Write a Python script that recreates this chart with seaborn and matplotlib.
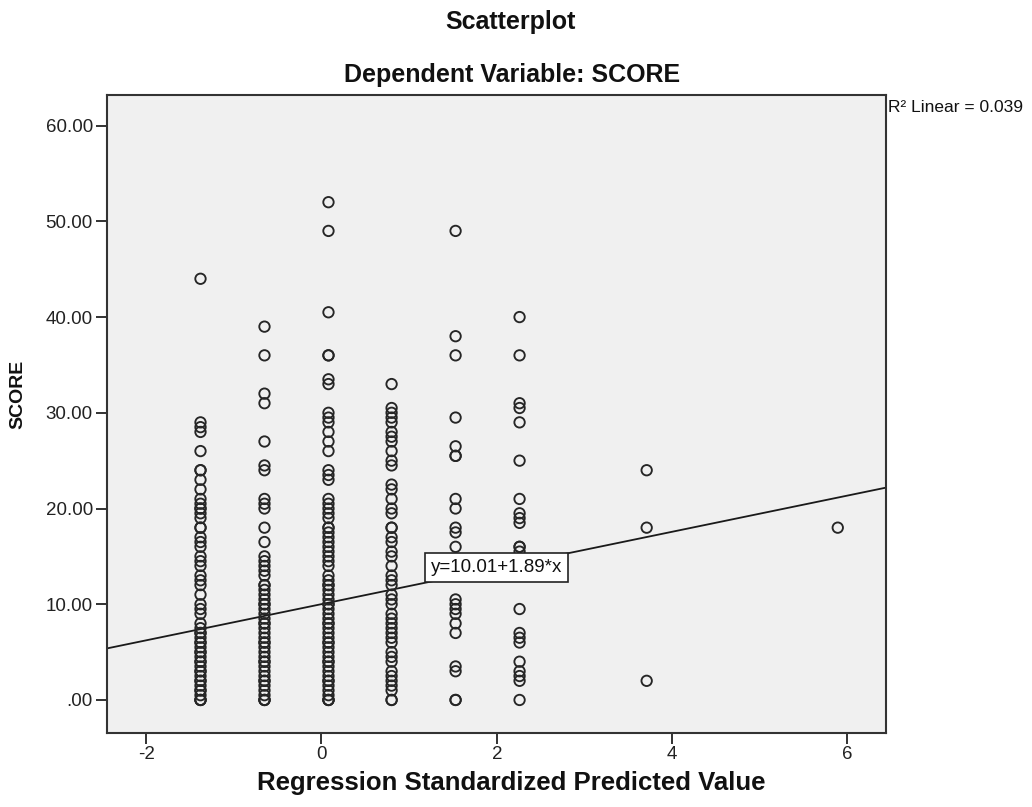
import pandas as pd
import matplotlib.pyplot as plt
import seaborn as sns

# standardisierte Vorhersagewerte (eine Spalte pro Wert)
pred_values = [-1.38, -0.65, 0.08, 0.80, 1.53, 2.26, 3.71, 5.89]

# SCORE-Werte je Spalte
scores_col1 = [44, 29, 28.5, 28, 26, 24, 24, 23, 22, 21, 20.5, 20, 20, 19.5, 19, 18, 18, 17, 16.5,
               16, 15, 14.5, 14, 13, 12.5, 12, 11, 10, 9.5, 9, 8, 7.5, 7, 7, 6.5, 6, 6, 5.5, 5, 5,
               4.5, 4, 4, 3.5, 3, 3, 2.5, 2, 2, 1.5, 1, 1, 0.5, 0, 0, 0]
scores_col2 = [39, 36, 32, 31, 27, 24.5, 24, 21, 20.5, 20, 18, 16.5, 15, 14.5, 14, 13.5, 13, 12,
               12, 11.5, 11, 10.5, 10, 10, 9.5, 9, 8.5, 8, 8, 7.5, 7, 6.5, 6, 6, 5.5, 5, 4.5, 4,
               4, 3.5, 3, 2.5, 2, 2, 1.5, 1, 0.5, 0, 0, 0]
scores_col3 = [52, 49, 40.5, 36, 36, 33.5, 33, 30, 29.5, 29, 28, 27, 26, 24, 23.5, 23, 21, 20.5,
               20, 19.5, 19, 18, 18, 17.5, 17, 16.5, 16, 15.5, 15, 14.5, 14, 13, 12.5, 12, 12,
               11.5, 11, 10.5, 10, 10, 9.5, 9, 8.5, 8, 8, 7.5, 7, 6.5, 6, 6, 5.5, 5, 4.5, 4, 4,
               3.5, 3, 2.5, 2, 2, 1.5, 1, 0.5, 0, 0, 0]
scores_col4 = [33, 30.5, 30, 29.5, 29, 28, 27.5, 27, 26, 25, 24.5, 22.5, 22, 21, 20, 19.5, 18, 18,
               17, 16.5, 15.5, 15, 14, 13, 12.5, 12, 11, 10.5, 10, 9, 8.5, 8, 7.5, 7, 6.5, 6, 5,
               4.5, 4, 3, 2.5, 2, 1.5, 1, 0, 0]
scores_col5 = [49, 38, 36, 29.5, 26.5, 25.5, 25.5, 21, 20, 18, 17.5, 16, 14, 13, 10.5, 10, 9.5, 9,
               8, 7, 3.5, 3, 0, 0]
scores_col6 = [40, 36, 31, 30.5, 29, 25, 21, 19.5, 19, 18.5, 16, 16, 15.5, 9.5, 7, 6.5, 6, 4, 3,
               2.5, 2, 0]
scores_col7 = [24, 18, 2]
scores_col8 = [18]

all_scores = [scores_col1, scores_col2, scores_col3, scores_col4,
              scores_col5, scores_col6, scores_col7, scores_col8]

# Regressionsgerade
intercept = 10.01
slope = 1.89
r2_text = 'R² Linear = 0.039'

# Tabelle fuer seaborn
rows = []
for xv, col in zip(pred_values, all_scores):
    for s in col:
        rows.append({'pred': xv, 'SCORE': s})
df = pd.DataFrame(rows)

sns.set_style("white")
plt.rcParams['font.family'] = ['Liberation Sans', 'DejaVu Sans']
plt.rcParams['axes.unicode_minus'] = False

fig = plt.figure(figsize=(10.32, 8.07), dpi=100)
ax = fig.add_axes([0.1034, 0.0923, 0.7551, 0.79])
ax.set_facecolor('#f0f0f0')

sns.scatterplot(data=df, x='pred', y='SCORE', ax=ax, marker='o', s=56,
                facecolor='none', edgecolor='#262626', linewidth=1.35, zorder=3)

# Gerade
ax.axline((0, intercept), slope=slope, color='#1a1a1a', lw=1.3, zorder=2)
ax.text(2.0, intercept + slope * 2.0, 'y=10.01+1.89*x', ha='center', va='center',
        fontsize=13.5, color='#111111', zorder=5,
        bbox=dict(boxstyle='square,pad=0.32', fc='white', ec='#222222', lw=1.2))

ax.set_xlim(-2.45, 6.44)
ax.set_ylim(-3.4, 63.2)
ax.set_xticks([-2, 0, 2, 4, 6])
ax.set_yticks([0, 10, 20, 30, 40, 50, 60])
ax.set_yticklabels(['.00', '10.00', '20.00', '30.00', '40.00', '50.00', '60.00'])
ax.tick_params(axis='both', direction='out', length=8, width=1.3, color='#222222',
               labelsize=13.5, labelcolor='#222222', pad=2,
               left=True, bottom=True, top=False, right=False)
for sp in ax.spines.values():
    sp.set_color('#333333')
    sp.set_linewidth(1.5)

ax.set_xlabel('')
ax.set_ylabel('')

# Beschriftung
fig.text(510 / 1032, 1 - 22 / 807, 'Scatterplot', ha='center', va='center',
         fontsize=18, fontweight='bold', color='#111111')
fig.text(512 / 1032, 1 - 75 / 807, 'Dependent Variable: SCORE', ha='center', va='center',
         fontsize=18, fontweight='bold', color='#111111')
fig.text(511 / 1032, 1 - 783 / 807, 'Regression Standardized Predicted Value',
         ha='center', va='center', fontsize=18.5, fontweight='bold', color='#111111')
fig.text(18 / 1032, 1 - 394 / 807, 'SCORE', ha='center', va='center', rotation=90,
         fontsize=14, fontweight='bold', color='#111111')
fig.text(888 / 1032, 1 - 108 / 807, r2_text, ha='left', va='center',
         fontsize=12.5, color='#111111')

plt.savefig('out.png', dpi=100)
plt.close()
